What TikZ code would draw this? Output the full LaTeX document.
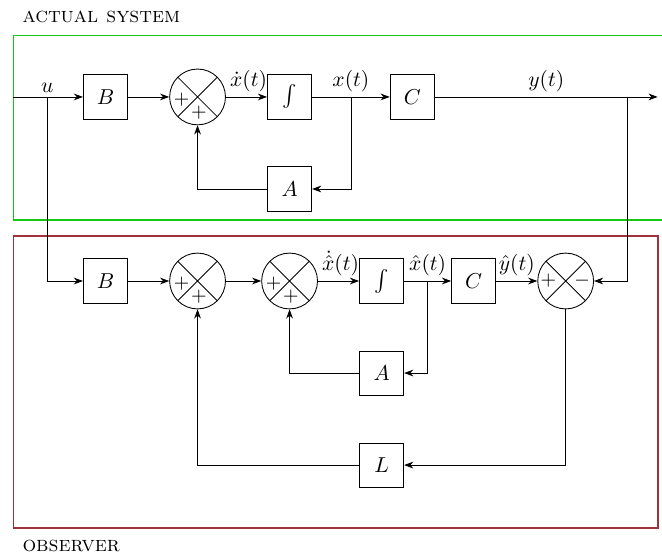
\documentclass[tikz,border=0pt]{standalone}
\usepackage{amsmath,amssymb}
\usetikzlibrary{calc,arrows.meta}
\definecolor{sysgreen}{RGB}{20,200,20}
\definecolor{obsred}{RGB}{160,50,60}
\tikzset{
  wire/.style    = {line width=0.4pt},
  arw/.style     = {line width=0.4pt, -{Stealth[length=1.5mm,width=1.1mm]}},
  blk/.style     = {draw, fill=white, minimum size=7.2mm, inner sep=1pt},
  sumj/.style    = {draw, circle, minimum size=9.1mm, inner sep=0pt,
                    path picture={
                      \draw (path picture bounding box.north west)--(path picture bounding box.south east)
                            (path picture bounding box.south west)--(path picture bounding box.north east);}},
  sgn/.style     = {font=\small, inner sep=0pt},
  lbl/.style     = {inner sep=0.5pt, above=1.5pt},
  frm/.style     = {line width=0.8pt},
  ttl/.style     = {anchor=west, inner sep=0pt},
}

\begin{document}
\begin{tikzpicture}
  \useasboundingbox (-1.72,1.58) rectangle (9.07,-7.5);
  % frames
  \draw[frm, draw=sysgreen] (-1.5,1) rectangle (9.4,-2);
  \draw[frm, draw=obsred] (-1.5,-2.27) rectangle (9.0,-7.02);
  \node[ttl] (tsys) at (-1.36,1.30) {\textsc{actual system}};
  \node[ttl] (tobs) at (-1.36,-7.32) {\textsc{observer}};
  % actual system
  \coordinate (in) at (-1.5,0);
  \coordinate (ub) at (-0.95,0);
  \node[blk] (b1) at (0,0) {$B$};
  \node[sumj] (s1) at (1.5,0) {};
  \node[blk] (i1) at (3,0) {$\int$};
  \coordinate (xb) at (4,0);
  \node[blk] (c1) at (5,0) {$C$};
  \coordinate (yb) at (8.5,0);
  \coordinate (out) at (9,0);
  \node[blk] (a1) at (3,-1.5) {$A$};
  \node[sgn] (s1l) at ($(s1)+(-0.26,-0.04)$) {$+$};
  \node[sgn] (s1b) at ($(s1)+(0.02,-0.25)$) {$+$};
  \draw[wire] (in)--(ub) node[lbl] (lu) {$u$};
  \draw[arw] (ub)--(b1);
  \draw[arw] (b1)--(s1);
  \draw[arw] (s1)--node[lbl,pos=0.55] (ldx) {$\dot{x}(t)$} (i1);
  \draw[wire] (i1)--(xb) node[lbl] (lx) {$x(t)$};
  \draw[arw] (xb)--(c1);
  \draw[arw] (c1)--node[lbl] (ly) {$y(t)$} (out);
  \draw[arw] (xb)|-(a1);
  \draw[arw] (a1)-|(s1);
  % observer
  \node[blk] (b2) at (0,-3) {$B$};
  \node[sumj] (s2) at (1.5,-3) {};
  \node[sumj] (s3) at (3,-3) {};
  \node[blk] (i2) at (4.5,-3) {$\int$};
  \coordinate (xb2) at (5.25,-3);
  \node[blk] (c2) at (6,-3) {$C$};
  \node[sumj] (s4) at (7.5,-3) {};
  \node[blk] (a2) at (4.5,-4.5) {$A$};
  \node[blk] (l2) at (4.5,-6) {$L$};
  \node[sgn] (s2l) at ($(s2)+(-0.26,-0.04)$) {$+$};
  \node[sgn] (s2b) at ($(s2)+(0.02,-0.25)$) {$+$};
  \node[sgn] (s3l) at ($(s3)+(-0.26,-0.04)$) {$+$};
  \node[sgn] (s3b) at ($(s3)+(0.02,-0.25)$) {$+$};
  \node[sgn] (s4l) at ($(s4)+(-0.28,0)$) {$+$};
  \node[sgn] (s4r) at ($(s4)+(0.27,0)$) {$-$};
  \draw[arw] (ub)|-(b2);
  \draw[arw] (b2)--(s2);
  \draw[arw] (s2)--(s3);
  \draw[arw] (s3)--node[lbl,pos=0.55] (ldxh) {$\dot{\hat{x}}(t)$} (i2);
  \draw[wire] (i2)--(xb2) node[lbl] (lxh) {$\hat{x}(t)$};
  \draw[arw] (xb2)--(c2);
  \draw[arw] (c2)--node[lbl] (lyh) {$\hat{y}(t)$} (s4);
  \draw[arw] (yb)|-(s4);
  \draw[arw] (xb2)|-(a2);
  \draw[arw] (a2)-|(s3);
  \draw[arw] (s4)|-(l2);
  \draw[arw] (l2)-|(s2);
\end{tikzpicture}
\end{document}
